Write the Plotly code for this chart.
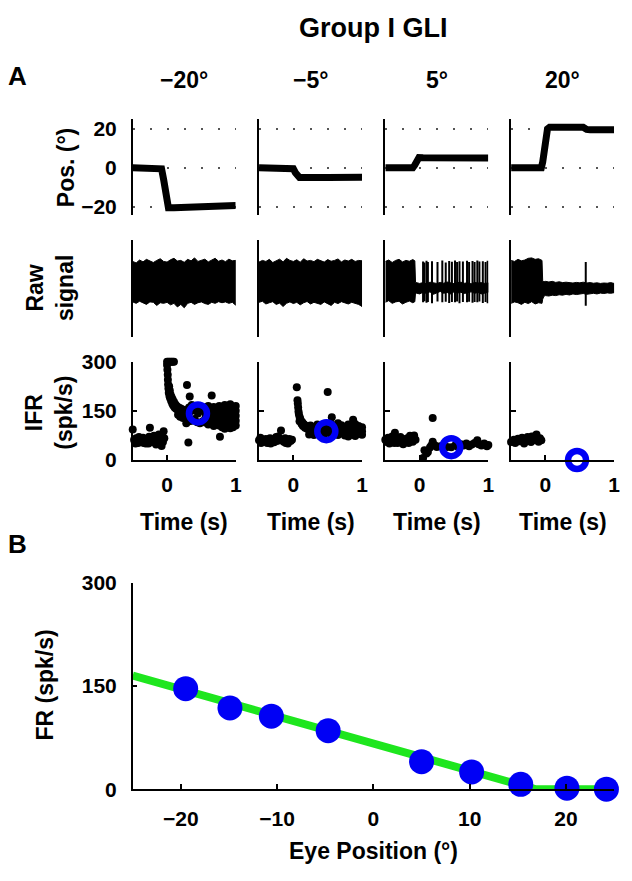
import plotly.graph_objects as go

W, H = 632, 881
FONT = "Liberation Sans, Arial, Helvetica, sans-serif"

# ---------------- data ----------------
title_text = "Group I GLI"
col_titles = ["−20°", "−5°", "5°", "20°"]
pos_ticks = [-20, 0, 20]
pos_ticktext = ["−20", "0", "20"]
ifr_ticks = [0, 150, 300]
time_ticks = [0, 1]
eye_ticks = [-20, -10, 0, 10, 20]
eye_ticktext = ["−20", "−10", "0", "10", "20"]

# eye position traces (deg) vs time (s)
pos1_t = [-0.50, -0.10, -0.08, -0.05, -0.02, 0.00, 0.02, 0.10, 0.30, 0.34, 1.00]
pos1_v = [0, 0, -0.5, -6, -15, -19.5, -20.5, -20.5, -20.3, -19.6, -19.4]
pos2_t = [-0.50, -0.02, 0.00, 0.03, 0.06, 0.09, 0.50, 1.00]
pos2_v = [0, 0, -0.5, -2.5, -4.5, -5.0, -5.0, -4.9]
pos3_t = [-0.50, -0.10, -0.07, -0.04, -0.01, 0.05, 1.00]
pos3_v = [0, 0, 1.5, 4.0, 5.3, 5.2, 5.1]
pos4_t = [-0.50, -0.06, -0.04, -0.02, 0.00, 0.03, 0.06, 0.55, 0.60, 0.65, 1.00]
pos4_v = [0, 0, 3, 10, 17, 20, 20.8, 20.8, 19.7, 19.5, 19.6]

# raw signal envelope (arbitrary units)
raw1_t = [-0.50, -0.45, -0.40, -0.35, -0.30, -0.25, -0.20, -0.15, -0.10, -0.05, 0.00,
          0.05, 0.10, 0.15, 0.20, 0.25, 0.30, 0.35, 0.40, 0.45, 0.50, 0.55, 0.60, 0.65,
          0.70, 0.75, 0.80, 0.85, 0.90, 0.95, 1.00]
raw1_up = [0.95, 0.88, 1.02, 0.93, 1.05, 0.96, 0.90, 1.00, 1.08, 0.95, 0.92, 1.03, 1.10, 0.97,
           1.00, 0.91, 1.05, 0.98, 1.12, 0.95, 1.00, 1.06, 0.93, 1.00, 1.10, 0.96, 1.02, 0.94,
           1.06, 0.98, 1.00]
raw1_lo = [-0.98, -1.05, -0.95, -1.02, -1.10, -0.98, -1.00, -1.15, -1.02, -1.05, -1.00, -1.12,
           -1.05, -1.22, -1.10, -1.26, -1.05, -1.00, -1.10, -1.02, -0.98, -1.06, -1.10, -1.00,
           -1.05, -0.97, -1.02, -0.98, -1.05, -1.00, -1.14]
raw2_t = raw1_t
raw2_up = [0.92, 1.00, 0.95, 1.05, 0.90, 0.98, 1.06, 0.93, 1.10, 1.00, 0.95, 1.03, 0.91, 1.08,
           0.97, 1.00, 0.94, 1.05, 0.99, 0.92, 1.04, 0.96, 1.00, 1.07, 0.93, 1.02, 0.97, 1.05,
           0.95, 1.00, 0.98]
raw2_lo = [-1.00, -0.95, -1.08, -1.02, -0.97, -1.10, -1.04, -1.20, -1.05, -0.98, -1.06, -1.00,
           -1.12, -1.02, -0.96, -1.08, -1.00, -1.04, -1.10, -0.98, -1.05, -1.15, -1.00, -1.06,
           -0.97, -1.03, -1.08, -1.00, -1.05, -1.10, -1.20]
raw3_t = [-0.50, -0.45, -0.40, -0.35, -0.30, -0.25, -0.20, -0.15, -0.10, -0.07, -0.06, 0.00,
          0.05, 0.10, 0.15, 0.20, 0.25, 0.30, 0.35, 0.40, 0.45, 0.50, 0.55, 0.60, 0.65, 0.70,
          0.75, 0.80, 0.85, 0.90, 0.95, 1.00]
raw3_up = [0.95, 1.02, 0.90, 1.00, 1.05, 0.93, 1.00, 0.96, 1.04, 0.98, -0.05, -0.10, -0.06,
           -0.12, -0.04, -0.08, -0.10, -0.05, -0.09, -0.03, -0.08, -0.11, -0.06, -0.04, -0.09,
           -0.07, -0.12, -0.05, -0.08, -0.06, -0.10, -0.07]
raw3_lo = [-1.00, -0.92, -1.05, -0.98, -0.95, -1.08, -1.00, -0.94, -1.02, -0.97, -0.55, -0.60,
           -0.52, -0.58, -0.50, -0.62, -0.55, -0.48, -0.57, -0.53, -0.60, -0.50, -0.56, -0.52,
           -0.58, -0.54, -0.50, -0.57, -0.53, -0.60, -0.55, -0.52]
raw4_t = [-0.50, -0.45, -0.40, -0.35, -0.30, -0.25, -0.20, -0.15, -0.10, -0.05, -0.04, -0.02,
          0.00, 0.05, 0.10, 0.15, 0.20, 0.25, 0.30, 0.35, 0.40, 0.45, 0.50, 0.55, 0.60, 0.65,
          0.70, 0.75, 0.80, 0.85, 0.90, 0.95, 1.00]
raw4_up = [1.00, 0.95, 1.05, 0.98, 1.02, 1.10, 1.12, 1.05, 1.08, 1.00, 0.00, -0.02, 0.00,
           -0.03, 0.00, -0.05, -0.02, -0.06, -0.04, -0.05, -0.08, -0.05, -0.07, -0.04, -0.08,
           -0.06, -0.09, -0.07, -0.10, -0.08, -0.09, -0.06, -0.10]
raw4_lo = [-1.05, -0.98, -1.02, -1.10, -1.00, -1.06, -0.97, -1.08, -1.02, -1.05, -0.85, -0.70,
           -0.68, -0.70, -0.66, -0.68, -0.64, -0.66, -0.62, -0.65, -0.60, -0.63, -0.60, -0.58,
           -0.62, -0.59, -0.57, -0.60, -0.56, -0.58, -0.55, -0.57, -0.54]
# isolated spikes in the raw signal
spk3_t = [0.05, 0.07, 0.10, 0.12, 0.18, 0.26, 0.33, 0.38, 0.43, 0.47, 0.515, 0.545, 0.58,
          0.63, 0.69, 0.72, 0.77, 0.80, 0.84, 0.87, 0.92, 0.96, 0.99]
spk3_up = [0.95, 0.90, 0.98, 0.92, 0.96, 0.93, 1.00, 0.90, 0.97, 0.94, 1.00, 0.92, 0.96, 0.95,
           0.98, 0.93, 0.97, 0.92, 1.00, 0.95, 0.96, 0.93, 0.98]
spk3_lo = [-1.00, -0.95, -1.02, -0.98, -1.05, -0.96, -1.00, -0.97, -1.03, -0.99, -1.00, -0.96,
           -1.04, -0.98, -1.00, -0.97, -1.02, -0.99, -1.00, -0.96, -1.03, -0.98, -1.05]
spk4_t = [0.587]
spk4_up = [0.92]
spk4_lo = [-1.17]

# instantaneous firing rate dots (time s, spk/s)
ifr1 = [(-0.50, 93), (-0.48, 62), (-0.47, 55), (-0.46, 50), (-0.45, 66), (-0.43, 58), (-0.42, 52),
        (-0.41, 70), (-0.40, 63), (-0.38, 60), (-0.36, 56), (-0.35, 68), (-0.34, 52), (-0.33, 59),
        (-0.31, 50), (-0.29, 64), (-0.28, 57), (-0.27, 50), (-0.26, 71), (-0.25, 98), (-0.23, 61),
        (-0.22, 66), (-0.21, 55), (-0.19, 74), (-0.18, 60), (-0.16, 47), (-0.15, 58), (-0.14, 66),
        (-0.12, 78), (-0.11, 58), (-0.09, 63), (-0.08, 43), (-0.07, 72), (-0.06, 55), (-0.05, 88),
        (-0.04, 66),
        (0.00, 300), (0.02, 300), (0.04, 300), (0.06, 300), (0.08, 300), (0.10, 300),
        (0.00, 290), (0.005, 275), (0.01, 260), (0.012, 245), (0.015, 230), (0.02, 218),
        (0.025, 205), (0.035, 195), (0.045, 188), (0.06, 180), (0.075, 172), (0.09, 166),
        (0.11, 160), (0.13, 156), (0.16, 152), (0.19, 148), (0.22, 145),
        (0.03, 225), (0.04, 212), (0.05, 200), (0.065, 192), (0.08, 185), (0.10, 178),
        (0.12, 170), (0.14, 165), (0.17, 160), (0.20, 157), (0.24, 153), (0.27, 150),
        (0.16, 138), (0.19, 132), (0.23, 128), (0.21, 140), (0.26, 136),
        (0.29, 229), (0.33, 194), (0.65, 197), (0.31, 53), (0.77, 71),
        (0.28, 150), (0.28, 125), (0.28, 112), (0.32, 160), (0.32, 145), (0.32, 118),
        (0.36, 168), (0.36, 150), (0.36, 120), (0.40, 155), (0.40, 125), (0.44, 162),
        (0.44, 115), (0.48, 158), (0.48, 112), (0.52, 150), (0.52, 118), (0.56, 160),
        (0.56, 143), (0.56, 128), (0.56, 114), (0.60, 165), (0.60, 150), (0.60, 135),
        (0.60, 120), (0.60, 108), (0.64, 155), (0.64, 140), (0.64, 125), (0.64, 110),
        (0.68, 162), (0.68, 148), (0.68, 133), (0.68, 118), (0.68, 104), (0.72, 157),
        (0.72, 142), (0.72, 126), (0.72, 112), (0.76, 165), (0.76, 150), (0.76, 136),
        (0.76, 120), (0.76, 105), (0.80, 160), (0.80, 145), (0.80, 130), (0.80, 115),
        (0.80, 100), (0.84, 168), (0.84, 152), (0.84, 138), (0.84, 122), (0.84, 108),
        (0.84, 95), (0.88, 162), (0.88, 147), (0.88, 132), (0.88, 117), (0.88, 102),
        (0.92, 170), (0.92, 155), (0.92, 140), (0.92, 125), (0.92, 110), (0.92, 97),
        (0.96, 160), (0.96, 146), (0.96, 130), (0.96, 115), (0.96, 100), (1.00, 165),
        (1.00, 150), (1.00, 135), (1.00, 120), (1.00, 105), (0.45, 142)]
ifr2 = [(-0.50, 60), (-0.48, 68), (-0.46, 55), (-0.44, 62), (-0.42, 58), (-0.40, 64), (-0.38, 52),
        (-0.36, 60), (-0.34, 66), (-0.32, 57), (-0.30, 61), (-0.28, 54), (-0.26, 63), (-0.24, 58),
        (-0.22, 72), (-0.20, 60), (-0.18, 90), (-0.16, 62), (-0.14, 56), (-0.12, 66), (-0.10, 60),
        (-0.08, 50), (-0.06, 64), (-0.04, 58), (-0.02, 62), (-0.47, 52), (-0.33, 50), (-0.25, 70),
        (-0.11, 52),
        (0.05, 222), (0.06, 182), (0.065, 172), (0.07, 160), (0.075, 148), (0.08, 140),
        (0.09, 132), (0.10, 126), (0.11, 120), (0.13, 115), (0.15, 110), (0.17, 106),
        (0.20, 103), (0.23, 100), (0.09, 118), (0.12, 110), (0.14, 104), (0.17, 98), (0.20, 95),
        (0.50, 207), (0.56, 130), (0.87, 123), (0.23, 78),
        (0.25, 105), (0.25, 92), (0.30, 100), (0.30, 88), (0.30, 76), (0.35, 108), (0.35, 95),
        (0.35, 82), (0.40, 102), (0.40, 90), (0.45, 95), (0.45, 80), (0.50, 100), (0.50, 85),
        (0.55, 110), (0.55, 98), (0.55, 86), (0.55, 75), (0.60, 104), (0.60, 92), (0.60, 80),
        (0.65, 112), (0.65, 100), (0.65, 88), (0.65, 76), (0.70, 106), (0.70, 94), (0.70, 82),
        (0.75, 100), (0.75, 88), (0.75, 75), (0.80, 108), (0.80, 95), (0.80, 83), (0.80, 72),
        (0.85, 102), (0.85, 90), (0.85, 78), (0.90, 110), (0.90, 97), (0.90, 85), (0.90, 73),
        (0.95, 104), (0.95, 92), (0.95, 80), (1.00, 100), (1.00, 88), (1.00, 77), (0.48, 88)]
ifr3 = [(-0.50, 62), (-0.48, 55), (-0.46, 68), (-0.44, 50), (-0.42, 60), (-0.40, 72), (-0.38, 58),
        (-0.36, 83), (-0.34, 64), (-0.32, 52), (-0.30, 60), (-0.28, 70), (-0.26, 55), (-0.24, 48),
        (-0.22, 63), (-0.20, 58), (-0.18, 66), (-0.16, 52), (-0.14, 74), (-0.12, 60), (-0.10, 56),
        (-0.08, 75), (-0.06, 62), (-0.45, 58), (-0.37, 52), (-0.27, 62), (-0.17, 57),
        (0.05, 6), (0.07, 30), (0.10, 20), (0.12, 24), (0.15, 38), (0.17, 44), (0.19, 56),
        (0.19, 128), (0.22, 45), (0.25, 40), (0.30, 42), (0.35, 45), (0.40, 40), (0.46, 39),
        (0.52, 45), (0.56, 40), (0.60, 48), (0.64, 44), (0.68, 50), (0.72, 42), (0.76, 47),
        (0.80, 52), (0.84, 60), (0.86, 48), (0.90, 44), (0.94, 50), (0.98, 42), (1.00, 46)]
ifr4 = [(-0.50, 55), (-0.48, 58), (-0.46, 62), (-0.44, 52), (-0.42, 60), (-0.40, 65), (-0.38, 57),
        (-0.36, 62), (-0.34, 68), (-0.32, 55), (-0.30, 63), (-0.28, 60), (-0.26, 70), (-0.24, 58),
        (-0.22, 65), (-0.20, 72), (-0.18, 60), (-0.16, 68), (-0.14, 75), (-0.12, 62), (-0.10, 56),
        (-0.08, 66), (-0.06, 60), (-0.13, 78), (-0.21, 55), (-0.31, 50)]
# mean firing rate (ring) per column
ring_t = [0.45, 0.48, 0.46, 0.46]
ring_v = [142, 88, 39, 0]

# panel B
eye_pos = [-19.5, -14.9, -10.6, -4.7, 5.0, 10.2, 15.3, 20.1, 24.2]
fr = [146, 118, 106, 85, 40, 25, 7, 1.5, 0]
fit_x = [-25, 16.8, 25]
fit_y = [165, 0, 0]

# ---------------- layout helpers ----------------
col_left = [134, 261.5, 389, 516]
col_w = 104
ROWS = {"pos": (110, 208), "raw": (234, 334), "ifr": (359, 460)}


def dx(a, b):
    return [a / W, b / W]


def dy(top, bot):
    return [1 - bot / H, 1 - top / H]


def px(x):
    return x / W


def py(y):
    return 1 - y / H


fig = go.Figure()
layout = dict(width=W, height=H, margin=dict(l=0, r=0, t=0, b=0),
              paper_bgcolor="white", plot_bgcolor="white", showlegend=False,
              font=dict(family=FONT, color="black", size=21, weight="bold"))

tickfont = dict(family=FONT, size=21, color="black", weight="bold")


def ax_name(k, s):
    return s + ("axis" if k == 1 else "axis%d" % k)


def ref(k, s):
    return s if k == 1 else "%s%d" % (s, k)


pos_data = [(pos1_t, pos1_v), (pos2_t, pos2_v), (pos3_t, pos3_v), (pos4_t, pos4_v)]
raw_data = [(raw1_t, raw1_up, raw1_lo), (raw2_t, raw2_up, raw2_lo),
            (raw3_t, raw3_up, raw3_lo), (raw4_t, raw4_up, raw4_lo)]
spk_data = [None, None, (spk3_t, spk3_up, spk3_lo), (spk4_t, spk4_up, spk4_lo)]
ifr_data = [ifr1, ifr2, ifr3, ifr4]

for c in range(4):
    xdom = dx(col_left[c], col_left[c] + col_w)
    # ---- position row ----
    k = 1 + c
    layout[ax_name(k, "x")] = dict(domain=xdom, range=[-0.5, 1.0], visible=False,
                                   anchor=ref(k, "y"))
    layout[ax_name(k, "y")] = dict(domain=dy(*ROWS["pos"]), range=[-24, 25], anchor=ref(k, "x"),
                                   showline=True, linecolor="black", linewidth=1.5,
                                   tickvals=pos_ticks, ticktext=pos_ticktext,
                                   showticklabels=(c == 0), ticks="", tickfont=tickfont,
                                   ticklabelstandoff=10,
                                   showgrid=True, gridcolor="#555", gridwidth=1.5,
                                   griddash="2px,15px", zeroline=False)
    t, v = pos_data[c]
    fig.add_trace(go.Scatter(x=t, y=v, mode="lines", line=dict(color="black", width=7),
                             xaxis=ref(k, "x"), yaxis=ref(k, "y"), hoverinfo="skip"))
    # ---- raw signal row ----
    k = 5 + c
    layout[ax_name(k, "x")] = dict(domain=xdom, range=[-0.5, 1.0], visible=False,
                                   anchor=ref(k, "y"))
    layout[ax_name(k, "y")] = dict(domain=dy(*ROWS["raw"]), range=[-2.67, 1.98],
                                   anchor=ref(k, "x"), showline=True, linecolor="black",
                                   linewidth=1.5, showticklabels=False, ticks="",
                                   showgrid=False, zeroline=False)
    t, up, lo = raw_data[c]
    fig.add_trace(go.Scatter(x=list(t) + list(t)[::-1], y=list(up) + list(lo)[::-1],
                             mode="lines", fill="toself", fillcolor="black",
                             line=dict(color="black", width=1),
                             xaxis=ref(k, "x"), yaxis=ref(k, "y"), hoverinfo="skip"))
    if spk_data[c] is not None:
        st, su, sl = spk_data[c]
        xs, ys = [], []
        for a, b, d in zip(st, su, sl):
            xs += [a, a, None]
            ys += [b, d, None]
        fig.add_trace(go.Scatter(x=xs, y=ys, mode="lines", line=dict(color="black", width=2),
                                 xaxis=ref(k, "x"), yaxis=ref(k, "y"), hoverinfo="skip"))
    # ---- IFR row ----
    k = 9 + c
    layout[ax_name(k, "x")] = dict(domain=xdom, range=[-0.5, 1.0], anchor=ref(k, "y"),
                                   showline=True, linecolor="black", linewidth=1.5,
                                   ticks="inside", ticklen=5, tickwidth=1.5, tickcolor="black",
                                   tickvals=time_ticks, ticktext=["0", "1"], tickfont=tickfont,
                                   ticklabelstandoff=5, showgrid=False, zeroline=False)
    layout[ax_name(k, "y")] = dict(domain=dy(*ROWS["ifr"]), range=[0, 300], anchor=ref(k, "x"),
                                   showline=True, linecolor="black", linewidth=1.5,
                                   ticks="inside", ticklen=5, tickwidth=1.5, tickcolor="black",
                                   tickvals=ifr_ticks, showticklabels=(c == 0),
                                   tickfont=tickfont, ticklabelstandoff=10,
                                   showgrid=False, zeroline=False)
    pts = ifr_data[c]
    fig.add_trace(go.Scatter(x=[p[0] for p in pts], y=[p[1] for p in pts], mode="markers",
                             marker=dict(color="black", size=8, line=dict(width=0)),
                             cliponaxis=False, xaxis=ref(k, "x"), yaxis=ref(k, "y"),
                             hoverinfo="skip"))
    fig.add_trace(go.Scatter(x=[ring_t[c]], y=[ring_v[c]], mode="markers",
                             marker=dict(symbol="circle-open", color="#0000f5", size=18,
                                         line=dict(width=6.5, color="#0000f5")),
                             cliponaxis=False, xaxis=ref(k, "x"), yaxis=ref(k, "y"),
                             hoverinfo="skip"))

# ---- panel B ----
k = 13
layout[ax_name(k, "x")] = dict(domain=dx(134, 620), range=[-25, 25], anchor=ref(k, "y"),
                               showline=True, linecolor="black", linewidth=1.5,
                               ticks="inside", ticklen=5, tickwidth=1.5, tickcolor="black",
                               tickvals=eye_ticks, ticktext=eye_ticktext, tickfont=tickfont,
                               ticklabelstandoff=10, showgrid=False, zeroline=False)
layout[ax_name(k, "y")] = dict(domain=dy(586, 798), range=[0, 300], anchor=ref(k, "x"),
                               showline=True, linecolor="black", linewidth=1.5,
                               ticks="inside", ticklen=5, tickwidth=1.5, tickcolor="black",
                               tickvals=ifr_ticks, tickfont=tickfont, ticklabelstandoff=10,
                               showgrid=False, zeroline=False)
fig.add_trace(go.Scatter(x=fit_x, y=fit_y, mode="lines", line=dict(color="#1ee61e", width=8),
                         cliponaxis=False, xaxis="x13", yaxis="y13", hoverinfo="skip"))
fig.add_trace(go.Scatter(x=eye_pos, y=fr, mode="markers",
                         marker=dict(color="#0000f5", size=25, line=dict(width=0)),
                         cliponaxis=False, xaxis="x13", yaxis="y13", hoverinfo="skip"))

# ---- text annotations ----
ann = []


def text(s, x, y, size, angle=0):
    ann.append(dict(text=s, x=px(x), y=py(y), xref="paper", yref="paper", showarrow=False,
                    xanchor="center", yanchor="middle", textangle=angle,
                    font=dict(family=FONT, size=size, color="black", weight="bold")))


text(title_text, 377, 16, 27)
text("A", 18, 66, 26)
text("B", 18, 546, 26)
for c in range(4):
    text(col_titles[c], col_left[c] + col_w / 2, 70, 23)
    text("Time (s)", col_left[c] + col_w / 2, 524, 23)
text("Pos. (°)", 66, 160, 23, -90)
text("Raw<br>signal", 50, 284, 23, -90)
text("IFR<br>(spk/s)", 50, 412, 23, -90)
text("FR (spk/s)", 45, 691, 23, -90)
text("Eye Position (°)", 377, 862, 23)
layout["annotations"] = ann

fig.update_layout(**layout)
fig.write_html("out.html",
               config={"displayModeBar": False},
               post_script="document.body.style.margin='0px';"
                           "document.body.style.overflow='hidden';")
